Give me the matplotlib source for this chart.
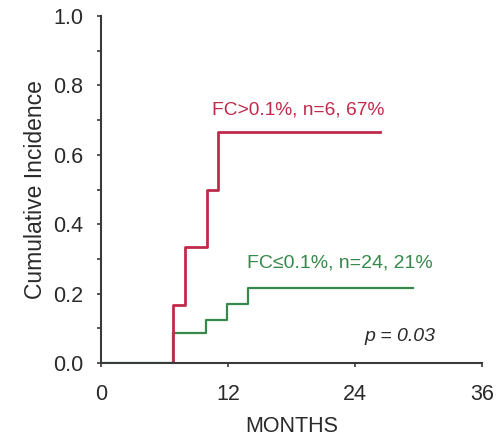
import matplotlib
matplotlib.use("Agg")
import matplotlib.pyplot as plt
from matplotlib.ticker import MultipleLocator

plt.rcParams['font.family'] = ['Liberation Sans', 'DejaVu Sans']

# step curves (months, cumulative incidence)
high_months = [0, 6.8, 7.9, 10.0, 11.1, 26.4]
high_inc = [0, 1/6, 2/6, 3/6, 4/6, 4/6]
low_months = [0, 6.8, 9.9, 11.9, 13.9, 29.5]
low_inc = [0, 0.087, 0.125, 0.17, 0.215, 0.215]

high_label = "FC>0.1%, n=6, 67%"
low_label = "FC\u22640.1%, n=24, 21%"
x_ticks = [0, 12, 24, 36]
y_ticks = [0.0, 0.2, 0.4, 0.6, 0.8, 1.0]

red = "#c02a4a"
green = "#36894a"
axis_col = "#3a3a3a"
text_col = "#2a2a2a"

fig = plt.figure(figsize=(5.01, 4.37), dpi=100)
ax = fig.add_axes([0.2016, 0.1693, 0.7605, 0.794])

ax.step(low_months, low_inc, where='post', color=green, linewidth=1.6)
ax.step(high_months, high_inc, where='post', color=red, linewidth=2.0)

ax.set_xlim(0, 36)
ax.set_ylim(0, 1.0)
ax.set_xticks(x_ticks)
ax.set_yticks(y_ticks)
ax.set_yticklabels([f"{v:.1f}" for v in y_ticks])
ax.yaxis.set_minor_locator(MultipleLocator(0.1))

for side in ['top', 'right']:
    ax.spines[side].set_visible(False)
for side in ['left', 'bottom']:
    ax.spines[side].set_color(axis_col)
    ax.spines[side].set_linewidth(1.5)
ax.tick_params(which='both', colors=axis_col, width=1.2, length=3, labelsize=15.5)
ax.tick_params(axis='x', pad=12, labelcolor=text_col)
ax.tick_params(axis='y', pad=10, labelcolor=text_col)

ax.set_xlabel("MONTHS", fontsize=15.5, color=text_col, labelpad=8)
ax.set_ylabel("Cumulative Incidence", fontsize=16.5, color=text_col, labelpad=4)

ax.text(10.5, 0.73, high_label, color=red, fontsize=13.8, va='center', ha='left')
ax.text(13.8, 0.288, low_label, color=green, fontsize=14, va='center', ha='left')
ax.text(24.9, 0.075, "p = 0.03", color=text_col, fontsize=14, style='italic',
        va='center', ha='left')

fig.savefig("out.png", dpi=100)
